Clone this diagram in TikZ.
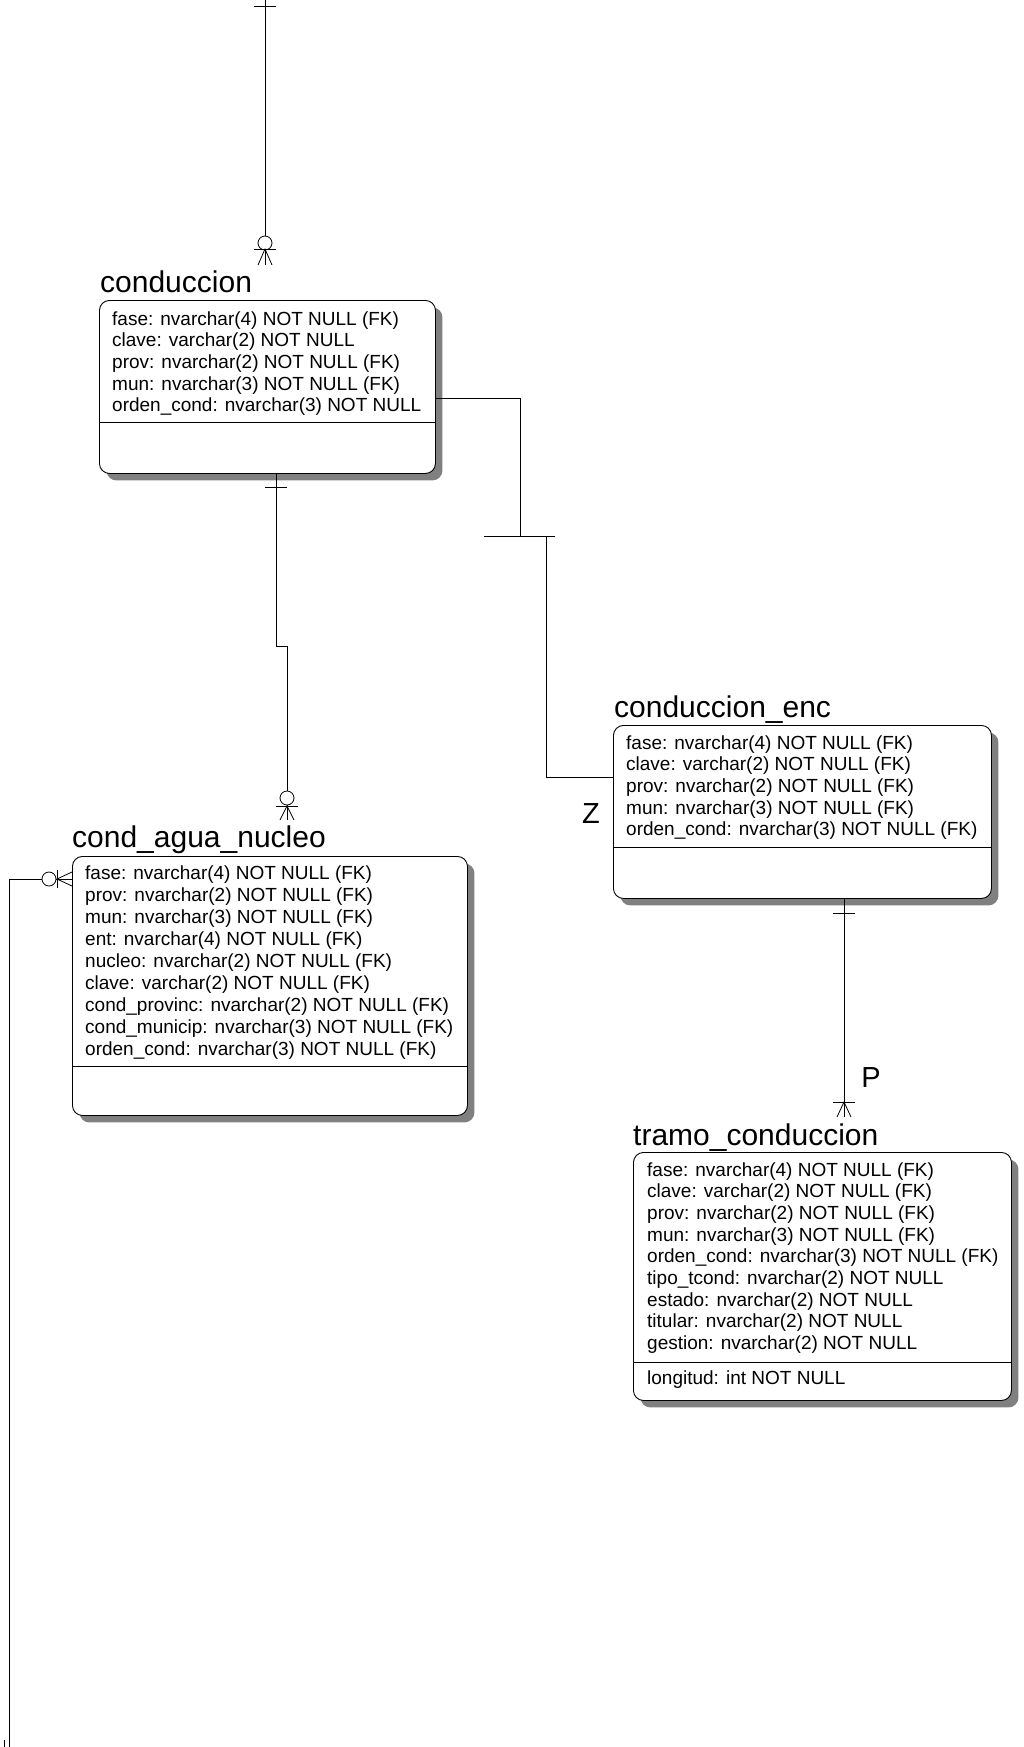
\documentclass[tikz,border=0pt]{standalone}
\usepackage{fontspec}
\setmainfont{Liberation Sans}
\usetikzlibrary{shadows}
\begin{document}
\begin{tikzpicture}[x=1pt,y=-1pt,
  ent/.style={draw=black, line width=0.9pt, fill=white, rounded corners=10pt, anchor=north west, inner sep=0pt,
    drop shadow={shadow xshift=7pt, shadow yshift=-7pt, fill=black!50, opacity=1}},
  rowtext/.style={anchor=base west, inner sep=0pt, font=\fontsize{19}{22}\selectfont},
  titletext/.style={anchor=base west, inner sep=0pt, font=\fontsize{30}{34}\selectfont},
  lbl/.style={inner sep=0pt, font=\fontsize{29}{33}\selectfont},
  rel/.style={line width=0.8pt, draw=black},
  divider/.style={line width=0.9pt, draw=black},
]
\useasboundingbox (0,0) rectangle (1023,1747);

% ---------------- entities ----------------
\node[ent, minimum width=336pt, minimum height=173pt] (conduccion) at (99,300) {};
\node[ent, minimum width=395pt, minimum height=259pt] (condagua) at (72,856) {};
\node[ent, minimum width=378pt, minimum height=173pt] (condenc) at (613,725) {};
\node[ent, minimum width=378pt, minimum height=248pt] (tramo) at (633,1152) {};

% dividers
\draw[divider] (99,422) -- (435,422);
\draw[divider] (72,1066) -- (467,1066);
\draw[divider] (613,847) -- (991,847);
\draw[divider] (633,1362) -- (1011,1362);

% titles
\node[titletext] (t-conduccion) at (100,292) {conduccion};
\node[titletext] (t-condagua) at (72,847) {cond\_agua\_nucleo};
\node[titletext] (t-condenc) at (614,717) {conduccion\_enc};
\node[titletext] (t-tramo) at (633,1145) {tramo\_conduccion};

% rows
\foreach \t [count=\i] in {fase: nvarchar(4) NOT NULL (FK),clave: varchar(2) NOT NULL,prov: nvarchar(2) NOT NULL (FK),mun: nvarchar(3) NOT NULL (FK),orden\_cond: nvarchar(3) NOT NULL}
  \node[rowtext] (r-conduccion-\i) at (112,{325+21.7*(\i-1)}) {\t};

\foreach \t [count=\i] in {fase: nvarchar(4) NOT NULL (FK),prov: nvarchar(2) NOT NULL (FK),mun: nvarchar(3) NOT NULL (FK),ent: nvarchar(4) NOT NULL (FK),nucleo: nvarchar(2) NOT NULL (FK),clave: varchar(2) NOT NULL (FK),cond\_provinc: nvarchar(2) NOT NULL (FK),cond\_municip: nvarchar(3) NOT NULL (FK),orden\_cond: nvarchar(3) NOT NULL (FK)}
  \node[rowtext] (r-condagua-\i) at (85,{879+22*(\i-1)}) {\t};

\foreach \t [count=\i] in {fase: nvarchar(4) NOT NULL (FK),clave: varchar(2) NOT NULL (FK),prov: nvarchar(2) NOT NULL (FK),mun: nvarchar(3) NOT NULL (FK),orden\_cond: nvarchar(3) NOT NULL (FK)}
  \node[rowtext] (r-condenc-\i) at (626,{749+21.7*(\i-1)}) {\t};

\foreach \t [count=\i] in {fase: nvarchar(4) NOT NULL (FK),clave: varchar(2) NOT NULL (FK),prov: nvarchar(2) NOT NULL (FK),mun: nvarchar(3) NOT NULL (FK),orden\_cond: nvarchar(3) NOT NULL (FK),tipo\_tcond: nvarchar(2) NOT NULL,estado: nvarchar(2) NOT NULL,titular: nvarchar(2) NOT NULL,gestion: nvarchar(2) NOT NULL}
  \node[rowtext] (r-tramo-\i) at (647,{1176+21.7*(\i-1)}) {\t};
\node[rowtext] (r-tramo-long) at (647,1384) {longitud: int NOT NULL};

% ---------------- connectors ----------------
% top connector into conduccion
\coordinate (topfree) at (265,0);
\coordinate (condin) at (265,265);
\draw[rel] (topfree) -- (condin);
\draw[rel] (254,6) -- (276,6);
\draw[rel, fill=white] (265,243) circle (7pt);
\draw[rel] (254,249) -- (276,249);
\draw[rel] (258,265) -- (265,249) -- (272,265);

% conduccion -> cond_agua_nucleo
\coordinate (aguain) at (287,820);
\draw[rel] (conduccion.south -| 276,0) -- (276,646) -- (287,646) -- (aguain);
\draw[rel] (265,487) -- (287,487);
\draw[rel, fill=white] (287,798) circle (7pt);
\draw[rel] (276,806) -- (298,806);
\draw[rel] (280,820) -- (287,806) -- (294,820);

% conduccion -> conduccion_enc (category)
\coordinate (catpt) at (520,536);
\draw[rel] (conduccion.east |- 0,398) -- (520,398) -- (catpt);
\draw[rel] (484,536) -- (555,536);
\draw[rel] (546,536) -- (546,777) -- (condenc.west |- 0,777);
\node[lbl] (lblZ) at (591,814) {Z};

% conduccion_enc -> tramo_conduccion
\coordinate (tramoin) at (844,1117);
\draw[rel] (condenc.south -| 844,0) -- (tramoin);
\draw[rel] (833,913) -- (855,913);
\draw[rel] (833,1102) -- (855,1102);
\draw[rel] (837,1117) -- (844,1102) -- (851,1117);
\node[lbl] (lblP) at (871,1078) {P};

% left connector into cond_agua_nucleo
\coordinate (botfree) at (9,1747);
\draw[rel] (condagua.west |- 0,879) -- (9,879) -- (botfree);
\draw[rel, fill=white] (49,879) circle (7pt);
\draw[rel] (57,870) -- (57,888);
\draw[rel] (72,872) -- (57,879) -- (72,886);
\draw[rel] (4.5,1740) -- (4.5,1747);
\end{tikzpicture}
\end{document}
